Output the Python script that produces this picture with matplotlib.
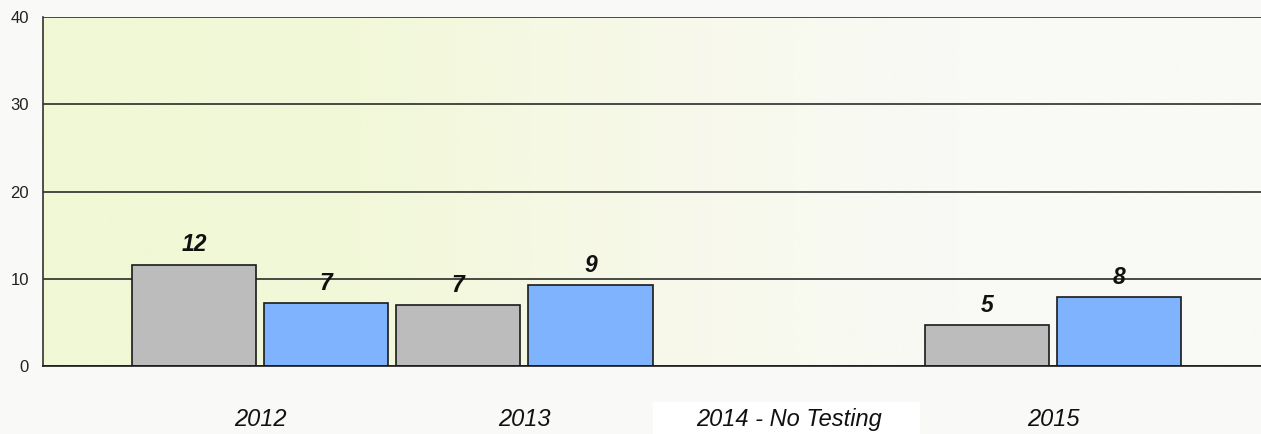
import numpy as np
import matplotlib
matplotlib.use('Agg')
import matplotlib.pyplot as plt
from matplotlib.colors import LinearSegmentedColormap
from matplotlib.patches import Rectangle

# Data
years = ['2012', '2013', '2014 - No Testing', '2015']
series_a = [11.6, 7.0, np.nan, 4.7]   # gray bars
series_b = [7.2, 9.3, np.nan, 7.9]    # blue bars
labels_a = ['12', '7', '', '5']
labels_b = ['7', '9', '', '8']
y_ticks = [0, 10, 20, 30, 40]

GRAY = '#bcbcbc'
BLUE = '#7fb3fe'
BG = '#f9f9f7'

plt.rcParams['font.family'] = ['Liberation Sans', 'DejaVu Sans']

fig = plt.figure(figsize=(12.61, 4.34), dpi=100, facecolor=BG)
W, H = 1261, 434

# White box behind the "No Testing" label (under the axes)
fig.patches.append(Rectangle((653 / W, 0), (920 - 653) / W, 32 / H,
                             transform=fig.transFigure, facecolor='white',
                             edgecolor='none', zorder=-1))

ax = fig.add_axes([43 / W, 68 / H, (W - 43) / W, (366 - 17) / H])
ax.patch.set_alpha(0)

# Background gradient (yellow-green on the left fading to white)
x = np.linspace(0, 1, 600)
grad = x[None, :]
cmap = LinearSegmentedColormap.from_list(
    'bg', [(0, '#f1f8d5'), (0.26, '#f2f8d9'), (0.4, '#f5f8e2'),
           (0.55, '#f8f9ec'), (0.75, '#f9f9f5'), (1, '#f9f9f7')])
ax.imshow(grad, cmap=cmap, aspect='auto', extent=[0, 1, 0, 1],
          transform=ax.transAxes, zorder=0)

pos = np.arange(len(years))
width = 0.47
offset = 0.25

bars_a = ax.bar(pos - offset, series_a, width, color=GRAY, edgecolor='#1a1a1a',
                linewidth=1.2, zorder=3)
bars_b = ax.bar(pos + offset, series_b, width, color=BLUE, edgecolor='#1a1a1a',
                linewidth=1.2, zorder=3)

for bars, labs in ((bars_a, labels_a), (bars_b, labels_b)):
    for b, lab in zip(bars, labs):
        if not lab:
            continue
        ax.annotate(lab, (b.get_x() + b.get_width() / 2, b.get_height()),
                    xytext=(0, 6), textcoords='offset points', ha='center',
                    va='bottom', fontsize=16.5, fontweight='bold', style='italic',
                    color='#111111', zorder=4)

ax.set_xlim(-0.821, 3.787)
ax.set_ylim(0, 40)
ax.set_yticks(y_ticks)
ax.set_yticklabels([str(t) for t in y_ticks], fontsize=12, color='#222222')
ax.tick_params(axis='y', length=0, pad=10)
ax.set_xticks(pos)
ax.set_xticklabels(years, fontsize=17, style='italic', color='#111111')
ax.tick_params(axis='x', length=0, pad=30)

ax.grid(axis='y', color='#1a1a1a', linewidth=1.1, zorder=1)
ax.set_axisbelow(True)
for s in ('top', 'right'):
    ax.spines[s].set_visible(False)
ax.spines['left'].set_color('#333333')
ax.spines['left'].set_linewidth(1.2)
ax.spines['bottom'].set_color('#1a1a1a')
ax.spines['bottom'].set_linewidth(1.2)
ax.spines['bottom'].set_zorder(5)

plt.savefig('out.png', dpi=100, facecolor=BG)
